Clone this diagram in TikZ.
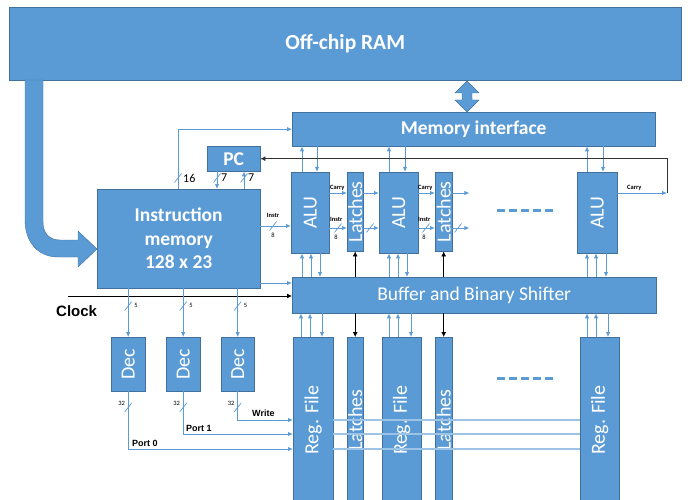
\documentclass[tikz,border=0pt]{standalone}
\usepackage{fontspec}
\setmainfont{Carlito}
\newfontfamily\arialfont{Liberation Sans}
\usetikzlibrary{arrows.meta}
\definecolor{blkfill}{HTML}{5B9BD5}
\definecolor{blkline}{HTML}{41719C}
\definecolor{sigcol}{HTML}{5B9BD5}
\definecolor{portline}{HTML}{9DC3E6}
\tikzstyle{blk}=[draw=blkline,fill=blkfill,text=white,inner sep=0pt,anchor=north west]
\tikzstyle{vtext}=[rotate=90,text=white,inner sep=0pt,font=\fontsize{20}{22}\selectfont]
\tikzstyle{sig}=[draw=sigcol,line width=0.9pt,-{Latex[length=5pt,width=4.5pt]}]
\tikzstyle{clk}=[draw=black,line width=0.8pt,-{Latex[length=5pt,width=5pt]}]
\tikzstyle{tiny}=[inner sep=0pt,text=black,font=\bfseries\fontsize{6.5}{7}\selectfont]
\tikzstyle{num}=[inner sep=0pt,text=black,font=\fontsize{6.5}{7}\selectfont]
\tikzstyle{port}=[inner sep=0pt,anchor=south west,text=black,font=\arialfont\bfseries\fontsize{9}{10}\selectfont]
\tikzset{vblk/.style={blk,label={[vtext]center:#1}},
  bus/.pic={\draw[sigcol,line width=0.7pt] (-3.5,4.5) -- (3.5,-4.5);}}
\begin{document}
\begin{tikzpicture}[x=1pt,y=-1pt]
  \useasboundingbox (0,0) rectangle (694,500);
  % wide blocks
  \node[blk,minimum width=672pt,minimum height=73pt,font=\bfseries\fontsize{21.5}{24}\selectfont] (ram) at (9,7) {Off-chip RAM};
  \node[blk,minimum width=363pt,minimum height=34pt,font=\bfseries\fontsize{19.5}{22}\selectfont] (mi) at (292,112) {Memory interface};
  \node[blk,minimum width=53pt,minimum height=25pt,font=\bfseries\fontsize{19.5}{22}\selectfont] (pc) at (207,146) {PC};
  \node[blk,minimum width=163pt,minimum height=99pt,align=center,font=\bfseries\fontsize{19.5}{23.5}\selectfont] (im) at (97,189) {Instruction\\memory\\128 x 23};
  \node[blk,minimum width=364pt,minimum height=36pt,font=\fontsize{19.5}{22}\selectfont] (buf) at (292,277) {Buffer and Binary Shifter};
  % ALUs and latches
  \node[vblk=ALU,minimum width=38pt,minimum height=81pt] (alu1) at (291,172) {};
  \node[vblk=Latches,minimum width=16pt,minimum height=79pt] (lat1) at (347,172) {};
  \node[vblk=ALU,minimum width=39pt,minimum height=81pt] (alu2) at (379,172) {};
  \node[vblk=Latches,minimum width=17pt,minimum height=79pt] (lat2) at (435,172) {};
  \node[vblk=ALU,minimum width=40pt,minimum height=81pt] (alu3) at (577,172) {};
  % register files
  \node[vblk=Reg. File,minimum width=40pt,minimum height=166pt] (rf1) at (293,337) {};
  \node[vblk=Latches,minimum width=16pt,minimum height=166pt] (lat3) at (347,337) {};
  \node[vblk=Reg. File,minimum width=39pt,minimum height=166pt] (rf2) at (382,337) {};
  \node[vblk=Latches,minimum width=17pt,minimum height=166pt] (lat4) at (435,337) {};
  \node[vblk=Reg. File,minimum width=39pt,minimum height=166pt] (rf3) at (580,337) {};
  % decoders
  \node[vblk=Dec,minimum width=34pt,minimum height=54pt] (dec1) at (111,337) {};
  \node[vblk=Dec,minimum width=34pt,minimum height=54pt] (dec2) at (166,337) {};
  \node[vblk=Dec,minimum width=33pt,minimum height=54pt] (dec3) at (221,337) {};

  % RAM to instruction memory, RAM to memory interface
  \filldraw[fill=blkfill,draw=blkline] (25,80) -- (25,220) .. controls (25,242) and (38,257) .. (58,257)
    -- (78,257) -- (78,267) -- (97,249) -- (78,231) -- (78,240) -- (60,240)
    .. controls (50,240) and (43,234) .. (43,222) -- (43,80) -- cycle;
  \filldraw[fill=blkfill,draw=blkline] (467,81) -- (479,93) -- (472,93) -- (472,100) -- (479,100)
    -- (467,112) -- (455,100) -- (462,100) -- (462,93) -- (455,93) -- cycle;

  % memory interface <-> ALUs
  \foreach \u/\d/\n in {302/317/alu1,389/405/alu2,587/603/alu3}{
    \draw[sig] (\u,0 |- \n.north) -- (\u,0 |- mi.south);
    \draw[sig] (\d,0 |- mi.south) -- (\d,0 |- \n.north);
  }
  % buffer <-> ALUs
  \foreach \a/\b/\c/\n in {302/311/320/alu1,389/398/407/alu2,587/596/606/alu3}{
    \draw[sig] (\a,0 |- buf.north) -- (\a,0 |- \n.south);
    \draw[sig] (\b,0 |- buf.north) -- (\b,0 |- \n.south);
    \draw[sig] (\c,0 |- \n.south) -- (\c,0 |- buf.north);
  }
  % buffer <-> register files
  \foreach \a/\b/\c/\n in {301/310/322/rf1,389/398/411/rf2,587/596/608/rf3}{
    \draw[sig] (\a,0 |- \n.north) -- (\a,0 |- buf.south);
    \draw[sig] (\b,0 |- \n.north) -- (\b,0 |- buf.south);
    \draw[sig] (\c,0 |- buf.south) -- (\c,0 |- \n.north);
  }
  % buffer <-> latches
  \draw[clk] (lat1.south |- buf.north) -- (lat1.south);
  \draw[clk] (lat2.south |- buf.north) -- (lat2.south);
  \draw[clk] (lat3.north |- buf.south) -- (lat3.north);
  \draw[clk] (lat4.north |- buf.south) -- (lat4.north);

  % instruction memory and PC
  \draw[sig] (178,0 |- im.north) |- (mi.west);
  \pic at (178,178) {bus};
  \node[anchor=west,inner sep=0pt,font=\fontsize{12}{13}\selectfont] (n16) at (183,178) {16};
  \draw[sig] (217,0 |- pc.south) -- (217,0 |- im.north);
  \pic at (217,178) {bus};
  \node[anchor=west,inner sep=0pt,font=\fontsize{12}{13}\selectfont] (n7a) at (221,178) {7};
  \draw[sig] (244,0 |- im.north) -- (244,0 |- pc.south);
  \pic at (244,178) {bus};
  \node[anchor=west,inner sep=0pt,font=\fontsize{12}{13}\selectfont] (n7b) at (248,178) {7};
  \coordinate (cout) at (667,193);
  \draw[clk,draw=black!80] (cout) |- (pc.east);

  % instruction path
  \draw[sig] (im.east |- 0,226) -- (alu1.west |- 0,226);
  \pic at (273,226) {bus};
  \node[tiny] (ti0) at (273,215) {Instr};
  \node[num] (te0) at (273,235) {8};
  \draw[sig] (im.east |- 0,283) -- (buf.west |- 0,283);
  \coordinate (clkin) at (68,296);
  \draw[clk] (clkin) -- (buf.west |- clkin);
  \node[anchor=west,inner sep=0pt,font=\arialfont\bfseries\fontsize{15}{17}\selectfont] (clock) at (56,311) {Clock};

  % carry and instr between ALUs and latches
  \draw[sig] (alu1.east |- 0,193) -- (lat1.west |- 0,193);
  \node[tiny,anchor=south west] (tc1) at (330,191) {Carry};
  \draw[sig] (alu1.east |- 0,228) -- (lat1.west |- 0,228);
  \pic at (338,228) {bus};
  \node[tiny,anchor=south west] (ti1) at (330,222) {Instr};
  \node[num] (te1) at (336,237) {8};
  \draw[sig] (lat1.east |- 0,193) -- (alu2.west |- 0,193);
  \draw[sig] (lat1.east |- 0,228) -- (alu2.west |- 0,228);
  \pic at (370,228) {bus};
  \draw[sig] (alu2.east |- 0,193) -- (lat2.west |- 0,193);
  \node[tiny,anchor=south west] (tc2) at (418,191) {Carry};
  \draw[sig] (alu2.east |- 0,228) -- (lat2.west |- 0,228);
  \pic at (426,228) {bus};
  \node[tiny,anchor=south west] (ti2) at (418,222) {Instr};
  \node[num] (te2) at (424,237) {8};
  \draw[sig] (lat2.east |- 0,193) -- ++(17,0);
  \draw[sig] (lat2.east |- 0,228) -- ++(17,0);
  \pic at (458,228) {bus};
  \draw[sig] (alu3.east |- cout) -- (cout);
  \node[tiny,anchor=south west] (tc3) at (627,191) {Carry};

  % more columns
  \draw[sigcol,line width=3pt,dash pattern=on 8pt off 4pt] (497,211) -- (553,211);
  \draw[sigcol,line width=3pt,dash pattern=on 8pt off 4pt] (497,378) -- (553,378);

  % instruction memory to decoders
  \foreach \n in {dec1,dec2,dec3}{
    \draw[sig] (\n.north |- im.south) -- (\n.north);
    \pic at ([yshift=31pt]\n.north) {bus};
    \node[num,anchor=south west] at ([xshift=6pt,yshift=29pt]\n.north) {5};
  }
  % decoders to register files
  \draw[sig] (dec1.south) |- (rf1.west |- 0,449);
  \draw[sig] (dec2.south) |- (rf1.west |- 0,434);
  \draw[sig] (dec3.south) |- (rf1.west |- 0,420);
  \foreach \n in {dec1,dec2,dec3}{
    \pic at ([yshift=-16pt]\n.south) {bus};
    \node[num,anchor=south east] at ([xshift=-3pt,yshift=-14pt]\n.south) {32};
  }
  \node[port] (p0) at (132,447) {Port 0};
  \node[port] (p1) at (186,432) {Port 1};
  \node[port] (pw) at (252,417) {Write};
  \foreach \y in {420,434,449}
    \draw[portline,line width=1.3pt] (rf1.east |- 0,\y) -- (rf3.west |- 0,\y);
\end{tikzpicture}
\end{document}
